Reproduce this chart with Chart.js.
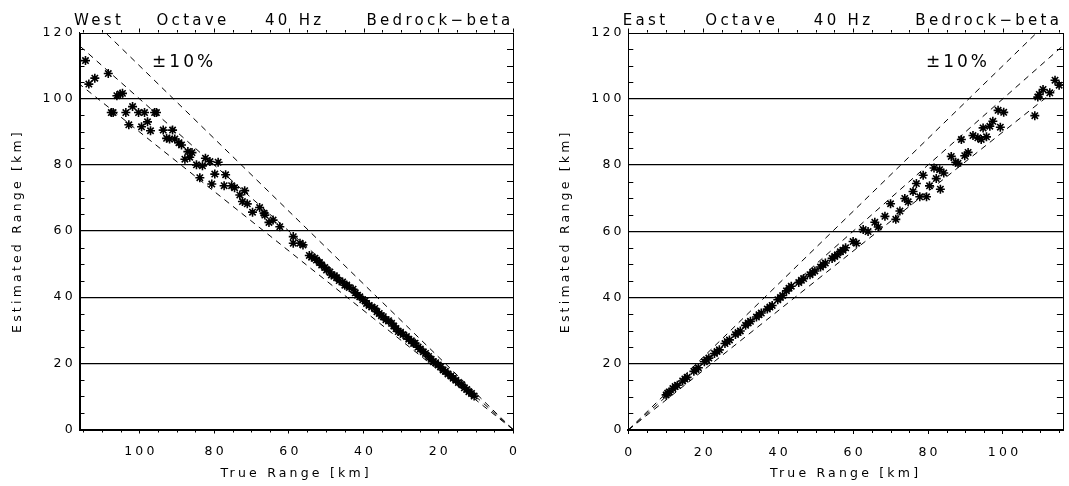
<!DOCTYPE html>
<html>
<head>
<meta charset="utf-8">
<script src="https://cdn.jsdelivr.net/npm/chart.js@4.4.1/dist/chart.umd.min.js"></script>
<style>
  html, body { margin: 0; padding: 0; background: #fff; }
  #wrap { position: relative; width: 1069px; height: 486px; }
  canvas { position: absolute; top: 0; }
  #west { left: 0; }
  #east { left: 534px; }
</style>
</head>
<body>
<div id="wrap">
  <canvas id="west" width="534" height="486"></canvas>
  <canvas id="east" width="535" height="486"></canvas>
</div>
<script>
// ---- West station: true vs estimated range (km) ----
const westTrue = [
  114.4, 113.5, 111.9, 108.3, 106.0, 105.1, 104.5, 107.5, 107.0, 103.6,
  101.8, 100.2, 98.6, 95.9, 95.4, 102.8, 99.4, 97.8, 97.0, 93.6,
  91.1, 92.7, 91.9, 90.5, 89.4, 88.7, 87.0, 85.9, 86.5, 87.8,
  84.7, 83.1, 82.3, 81.1, 78.9, 83.8, 79.8, 76.9, 80.6, 77.3,
  75.3, 74.5, 73.1, 71.8, 72.4, 71.1, 69.7, 67.8, 66.6, 65.3,
  64.2, 62.4, 66.4, 58.8, 58.8, 57.0, 56.2,
  54.5, 53.9, 53.0, 52.6, 51.8, 51.2, 50.4, 49.9, 49.0, 48.6,
  47.8, 47.2, 46.5, 45.6, 45.0, 44.5, 43.8, 42.8, 42.2, 41.6,
  41.0, 40.2, 39.6, 39.2, 38.5, 37.8, 37.0, 36.4, 35.8, 35.2,
  34.7, 34.0, 33.3, 32.5, 31.9, 31.3, 30.7, 30.1, 29.4, 28.5,
  27.9, 27.2, 26.6, 26.2, 25.4, 24.8, 24.0, 23.4, 22.6, 21.9,
  21.3, 20.7, 20.0, 19.4, 18.7, 18.1, 17.4, 16.6, 16.0, 15.3,
  14.6, 13.7, 13.0, 12.4, 11.8, 11.1, 10.4
];
const westEst = [
  111.5, 104.4, 106.2, 107.6, 100.9, 101.4, 101.6, 95.8, 95.8, 95.8,
  97.6, 95.8, 95.8, 95.8, 95.8, 92.1, 91.5, 93.0, 90.3, 90.5,
  90.5, 88.0, 87.8, 87.8, 86.7, 86.0, 84.0, 83.7, 82.3, 81.7,
  80.0, 79.7, 82.0, 81.0, 80.8, 76.1, 77.2, 77.0, 74.2, 73.7,
  73.7, 73.1, 70.9, 72.2, 68.9, 68.2, 65.7, 67.1, 65.4, 62.6,
  63.3, 61.3, 64.8, 58.3, 56.3, 56.3, 55.8,
  52.6, 52.1, 51.8, 51.2, 50.5, 49.7, 49.0, 48.2, 47.6, 46.7,
  46.5, 45.9, 45.0, 44.6, 43.6, 43.7, 42.9, 42.4, 41.3, 40.6,
  40.1, 39.2, 38.9, 38.1, 37.5, 37.0, 36.6, 35.6, 35.1, 34.4,
  34.1, 33.2, 32.9, 32.1, 31.3, 30.5, 29.6, 29.4, 28.7, 28.1,
  27.3, 26.8, 26.0, 26.1, 24.9, 24.3, 23.5, 23.0, 22.1, 21.2,
  20.5, 20.2, 19.5, 18.9, 18.0, 17.6, 16.8, 16.2, 15.5, 14.9,
  14.2, 13.5, 12.6, 12.1, 11.4, 10.9, 10.1
];

// ---- East station: true vs estimated range (km) ----
const eastTrue = [
  113.9, 115.0, 110.7, 112.5, 109.7, 109.3, 108.5, 98.7, 100.2, 97.3,
  96.5, 94.7, 99.3, 92.0, 93.3, 94.2, 95.6, 88.9, 86.2, 87.4,
  88.0, 89.8, 90.7, 81.6, 83.1, 84.2, 78.7, 76.9, 82.2, 80.4,
  83.3, 76.0, 77.8, 79.6, 73.8, 74.7, 70.0, 72.5, 71.4, 68.5,
  65.8, 66.7, 62.7, 64.0, 60.0, 60.9,
  58.0, 57.3, 56.6, 55.8, 55.1, 54.4, 52.6, 52.0, 51.3, 49.8,
  49.2, 48.5, 46.8, 46.2, 45.5, 43.5, 42.9, 42.2, 41.2, 40.6,
  39.9, 38.4, 37.8, 37.1, 35.5, 34.9, 34.2, 32.6, 32.0, 31.3,
  29.9, 29.3, 28.6, 27.0, 26.4, 25.8, 24.3, 23.7, 23.0, 21.5,
  20.9, 20.3, 18.7, 18.1, 17.5, 15.7, 15.1, 14.5, 13.1, 12.5,
  11.9, 10.9, 10.5, 10.1
];
const eastEst = [
  105.6, 104.1, 102.8, 101.8, 101.3, 100.5, 94.9, 96.5, 95.9, 93.2,
  91.7, 91.2, 91.4, 88.9, 88.2, 87.7, 88.5, 87.7, 82.6, 80.8,
  80.5, 82.8, 83.8, 79.1, 78.6, 77.6, 76.9, 74.4, 75.9, 73.7,
  72.7, 72.0, 70.4, 70.4, 69.9, 68.9, 68.3, 66.1, 63.6, 64.5,
  62.7, 61.3, 60.5, 59.9, 56.9, 56.4,
  55.0, 54.3, 53.8, 52.9, 52.4, 51.8, 50.4, 49.9, 49.2, 48.0,
  47.6, 46.9, 45.7, 45.2, 44.5, 43.4, 42.8, 42.0, 40.6, 40.0,
  39.3, 37.6, 37.1, 36.5, 35.3, 34.8, 34.1, 32.8, 32.3, 31.6,
  29.9, 29.4, 28.8, 27.2, 26.7, 26.1, 24.2, 23.7, 23.1, 21.7,
  21.2, 20.6, 18.8, 18.3, 17.7, 15.9, 15.4, 14.8, 13.5, 13.1,
  12.5, 11.5, 11.1, 10.6
];

// Axis tick values and guide lines (estimate = ratio x true range)
const xTickValues = [0, 20, 40, 60, 80, 100];
const yTickValues = [0, 20, 40, 60, 80, 100, 120];
const minorStep = 5;
const xRange = [0, 116];
const yRange = [0, 120];
const guideRatios = [0.9, 1.0, 1.1];
const guideX = [0, 116];
const bandLabel = '\u00b110%';
const bandLabelAt = { x: 88, y: 111 };

const westTitle = ['West', 'Octave', '40 Hz', 'Bedrock\u2212beta'];
const eastTitle = ['East', 'Octave', '40 Hz', 'Bedrock\u2212beta'];
const titleOffsets = [-5.5, 77, 185.5, 287];   // px from the plot's left edge
const xAxisTitle = 'True Range [km]';
const yAxisTitle = 'Estimated Range [km]';

const FONT = '"DejaVu Sans", "Liberation Sans", sans-serif';
const LETTER_SPACING = '3.2px';

// Keep a wide letter spacing on every text Chart.js draws:
// re-apply it whenever the context font changes.
function spaceOutText(canvas, spacing) {
  const ctx = canvas.getContext('2d');
  const desc = Object.getOwnPropertyDescriptor(CanvasRenderingContext2D.prototype, 'font');
  Object.defineProperty(ctx, 'font', {
    configurable: true,
    get() { return desc.get.call(this); },
    set(v) { desc.set.call(this, v); this.letterSpacing = spacing; }
  });
  return canvas;
}

// Frame, minor ticks, panel heading and the ±10% note
const panelDecor = {
  id: 'panelDecor',
  afterDatasetsDraw(chart, args, opts) {
    const { ctx, chartArea: { left, right, top, bottom }, scales: { x, y } } = chart;
    const snap = v => Math.round(v) + 0.5;
    ctx.save();
    ctx.strokeStyle = '#000';
    ctx.lineWidth = 1;
    ctx.strokeRect(snap(left), snap(top), Math.round(right) - Math.round(left), Math.round(bottom) - Math.round(top));

    ctx.beginPath();
    for (let v = xRange[0]; v <= xRange[1]; v += minorStep) {
      const px = snap(x.getPixelForValue(v));
      const major = v % 20 === 0;
      ctx.moveTo(px, top);
      ctx.lineTo(px, top - (major ? 4 : 2.5));
      if (!major) {
        ctx.moveTo(px, bottom);
        ctx.lineTo(px, bottom + 3);
      }
    }
    for (let v = yRange[0] + minorStep; v < yRange[1]; v += minorStep) {
      if (v % 20 === 0) continue;
      const py = snap(y.getPixelForValue(v));
      ctx.moveTo(left, py); ctx.lineTo(left + 5, py);
      ctx.moveTo(right, py); ctx.lineTo(right - 6, py);
    }
    ctx.stroke();

    // heading words along the top
    ctx.fillStyle = '#000';
    ctx.font = '15px ' + FONT;
    ctx.letterSpacing = '3.3px';
    ctx.textAlign = 'left';
    ctx.textBaseline = 'alphabetic';
    opts.words.forEach((w, i) => ctx.fillText(w, left + titleOffsets[i], 24.5));

    // ±10% note inside the plot
    ctx.font = '17px ' + FONT;
    ctx.letterSpacing = '3px';
    ctx.textAlign = 'center';
    ctx.textBaseline = 'middle';
    ctx.fillText(bandLabel, x.getPixelForValue(bandLabelAt.x), y.getPixelForValue(bandLabelAt.y));
    ctx.restore();
  }
};

function makePanel(id, trueVals, estVals, cfg) {
  const tickFont = { family: FONT, size: 12.5, weight: 'normal' };
  const guides = guideRatios.map(r => ({
    type: 'line',
    data: guideX.map(t => ({ x: t, y: t * r })),
    borderColor: '#000',
    borderWidth: 1,
    borderDash: [6, 5],
    pointRadius: 0,
    fill: false,
    tension: 0
  }));
  const points = {
    type: 'scatter',
    data: trueVals.map((t, i) => ({ x: t, y: estVals[i] })),
    pointStyle: 'star',
    pointRadius: 4.5,
    borderColor: '#000',
    backgroundColor: '#000',
    borderWidth: 1.6
  };
  const canvas = spaceOutText(document.getElementById(id), LETTER_SPACING);
  return new Chart(canvas, {
    type: 'scatter',
    data: { datasets: [...guides, points] },
    plugins: [panelDecor],
    options: {
      responsive: false,
      animation: false,
      devicePixelRatio: 1,
      events: [],
      layout: { padding: { top: 32.5, right: cfg.padRight, left: 0, bottom: 0 } },
      plugins: {
        legend: { display: false },
        tooltip: { enabled: false },
        title: { display: false },
        panelDecor: { words: cfg.words }
      },
      scales: {
        x: {
          type: 'linear',
          min: xRange[0], max: xRange[1],
          reverse: cfg.reverse,
          afterBuildTicks: s => { s.ticks = xTickValues.map(v => ({ value: v })); },
          afterFit: s => { s.height = cfg.xHeight; },
          ticks: { color: '#000', font: tickFont, padding: 11, maxRotation: 0, includeBounds: false, labelOffset: 1.6 },
          grid: { drawOnChartArea: false, drawTicks: true, tickLength: 4, color: '#000', lineWidth: 1 },
          border: { display: true, color: '#000', width: 2 },
          title: { display: true, text: xAxisTitle, color: '#000', font: tickFont, padding: { top: 0, bottom: 4.5 } }
        },
        y: {
          type: 'linear',
          min: yRange[0], max: yRange[1],
          afterBuildTicks: s => { s.ticks = yTickValues.map(v => ({ value: v })); },
          afterFit: s => { s.width = cfg.yWidth; },
          ticks: { color: '#000', font: tickFont, padding: 3.6, includeBounds: false },
          grid: {
            drawTicks: false,
            lineWidth: 1.3,
            color: c => (c.tick && (c.tick.value === yRange[0] || c.tick.value === yRange[1])) ? 'rgba(0,0,0,0)' : '#000'
          },
          border: { display: true, color: '#000', width: 1 },
          title: { display: true, text: yAxisTitle, color: '#000', font: tickFont, padding: { top: cfg.yTitlePad, bottom: 0 } }
        }
      }
    }
  });
}

makePanel('west', westTrue, westEst, {
  reverse: true, words: westTitle, yWidth: 79.5, padRight: 21, xHeight: 56.5, yTitlePad: 10.5
});
makePanel('east', eastTrue, eastEst, {
  reverse: false, words: eastTitle, yWidth: 94.3, padRight: 5.7, xHeight: 56, yTitlePad: 24.5
});
</script>
</body>
</html>
